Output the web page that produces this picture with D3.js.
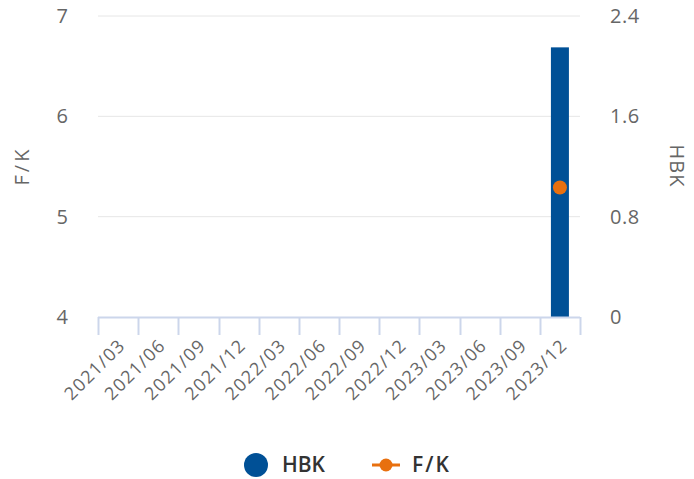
<!DOCTYPE html>
<html><head><meta charset="utf-8">
<script src="https://cdn.jsdelivr.net/npm/d3@7"></script>
<style>body{margin:0;background:#fff;}svg{display:block;font-family:"Open Sans","Noto Sans",sans-serif;}</style>
</head><body>
<svg id="c" width="694" height="479"></svg>
<script>
const categories = ["2021/03","2021/06","2021/09","2021/12","2022/03","2022/06","2022/09","2022/12","2023/03","2023/06","2023/09","2023/12"];
const hbkValues = [null,null,null,null,null,null,null,null,null,null,null,2.15];
const fkValues = [null,null,null,null,null,null,null,null,null,null,null,5.29];
const leftTicks = [4,5,6,7];
const rightTicks = [0,0.8,1.6,2.4];

const svg = d3.select("#c");
const L = 98, R = 580, T = 16, B = 317;
const x = d3.scaleBand().domain(categories).range([L, R]);
const yL = d3.scaleLinear().domain([4,7]).range([B, T]);
const yR = d3.scaleLinear().domain([0,2.4]).range([B, T]);
const txt = "#666666";

// grid
svg.append("g").selectAll("line").data(leftTicks.slice(1)).join("line")
  .attr("x1", L).attr("x2", R).attr("y1", d=>yL(d)).attr("y2", d=>yL(d))
  .attr("stroke", "#e6e6e6").attr("stroke-width", 1);

// left labels
svg.append("g").selectAll("text").data(leftTicks).join("text")
  .attr("x", 68).attr("y", d=>yL(d)).attr("dy", "0.35em").attr("text-anchor","end")
  .attr("font-size", 20).attr("fill", txt).text(d=>d);
// right labels
svg.append("g").selectAll("text").data(rightTicks).join("text")
  .attr("x", 610).attr("y", d=>yR(d)).attr("dy", "0.35em").attr("text-anchor","start")
  .attr("font-size", 20).attr("fill", txt).attr("letter-spacing", 0.5).text(d=>d);

// axis titles
svg.append("text").attr("transform","translate(29,166) rotate(-90)").attr("text-anchor","middle")
  .attr("font-size", 20).attr("letter-spacing", 3).attr("fill", txt).text("F/K");
svg.append("text").attr("transform","translate(670,166) rotate(90)").attr("text-anchor","middle")
  .attr("font-size", 20).attr("letter-spacing", 1).attr("fill", txt).text("HBK");

// bars
svg.append("g").selectAll("rect").data(categories.map((c,i)=>({c,v:hbkValues[i]})).filter(d=>d.v!=null)).join("rect")
  .attr("x", d=>x(d.c)+x.bandwidth()/2-9).attr("width", 18)
  .attr("y", d=>yR(d.v)).attr("height", d=>yR(0)-yR(d.v)).attr("fill", "#005096");

// x axis
const ax = svg.append("g");
ax.append("line").attr("x1", L).attr("x2", R).attr("y1", B+0.5).attr("y2", B+0.5).attr("stroke","#ccd6eb").attr("stroke-width",2);
const tickPos = categories.map(c=>x(c)).concat([R]);
ax.selectAll("line.t").data(tickPos).join("line").attr("class","t")
  .attr("x1", d=>Math.round(d)+0.5).attr("x2", d=>Math.round(d)+0.5).attr("y1", B).attr("y2", B+18)
  .attr("stroke","#ccd6eb").attr("stroke-width",2);
ax.selectAll("text").data(categories).join("text")
  .attr("transform", d=>`translate(${x(d)+x.bandwidth()/2+4},${B+25}) rotate(-45)`)
  .attr("text-anchor","end").attr("font-size", 18).attr("letter-spacing", 1.3).attr("fill", txt).attr("dy","0.35em").text(d=>d);

// points
svg.append("g").selectAll("circle").data(categories.map((c,i)=>({c,v:fkValues[i]})).filter(d=>d.v!=null)).join("circle")
  .attr("cx", d=>x(d.c)+x.bandwidth()/2).attr("cy", d=>yL(d.v)).attr("r", 7).attr("fill", "#e8700f");

// legend
const lg = svg.append("g");
lg.append("circle").attr("cx", 256).attr("cy", 465).attr("r", 12).attr("fill", "#005096");
lg.append("text").attr("x", 282).attr("y", 465).attr("dy","0.35em").attr("font-size", 21).attr("font-weight", 600).attr("fill","#333").text("HBK");
lg.append("line").attr("x1", 372).attr("x2", 400).attr("y1", 465).attr("y2", 465).attr("stroke","#e8700f").attr("stroke-width",3);
lg.append("circle").attr("cx", 386).attr("cy", 465).attr("r", 6.5).attr("fill", "#e8700f");
lg.append("text").attr("x", 412).attr("y", 465).attr("dy","0.35em").attr("font-size", 21).attr("font-weight", 600).attr("letter-spacing", 2).attr("fill","#333").text("F/K");
</script>
</body></html>
